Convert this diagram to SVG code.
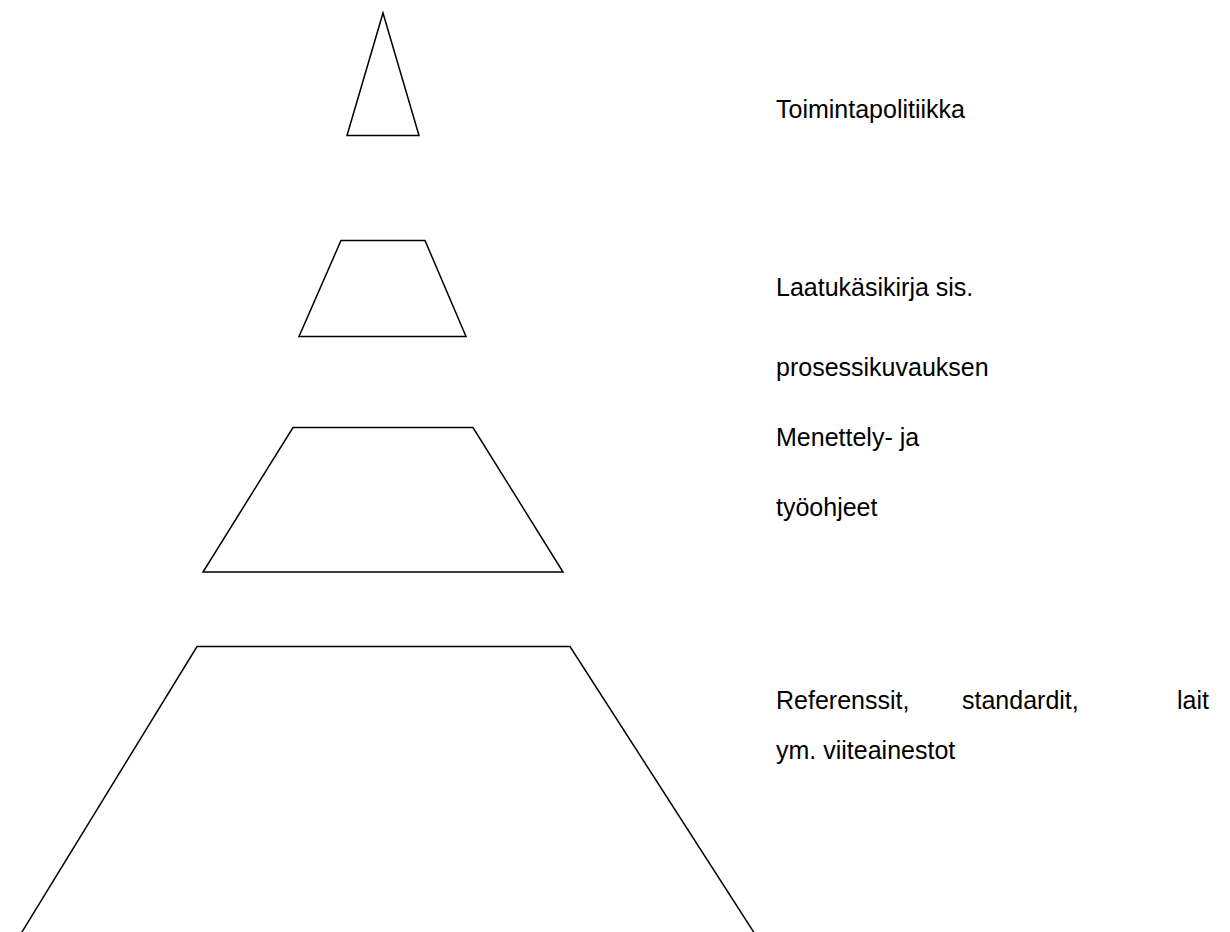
<svg xmlns="http://www.w3.org/2000/svg" width="1230" height="932" viewBox="0 0 1230 932">
<style>
.s{fill:#fff;stroke:#000;stroke-width:1.5;stroke-linejoin:miter}
.t{font-family:"Liberation Sans",Arial,sans-serif;font-size:25px;fill:#000}
</style>
<rect width="1230" height="932" fill="#fff"/>
<g id="level1"><polygon class="s" points="383,13 419,135.5 347,135.5"/></g>
<g id="level2"><polygon class="s" points="341,240.5 425,240.5 466,336.5 299,336.5"/></g>
<g id="level3"><polygon class="s" points="293,427.5 473,427.5 563,572 203,572"/></g>
<g id="level4"><polyline class="s" fill="none" points="14,945 197,646.5 570,646.5 762,945"/></g>
<g id="connectors"></g>
<g id="labels">
<text class="t" x="776" y="118">Toimintapolitiikka</text>
<text class="t" x="776" y="296">Laatukäsikirja sis.</text>
<text class="t" x="776" y="376">prosessikuvauksen</text>
<text class="t" x="776" y="446">Menettely- ja</text>
<text class="t" x="776" y="516">työohjeet</text>
<text class="t" y="709"><tspan x="776">Referenssit,</tspan><tspan x="962">standardit,</tspan><tspan x="1177">lait</tspan></text>
<text class="t" x="776" y="759">ym. viiteainestot</text>
</g>
</svg>
